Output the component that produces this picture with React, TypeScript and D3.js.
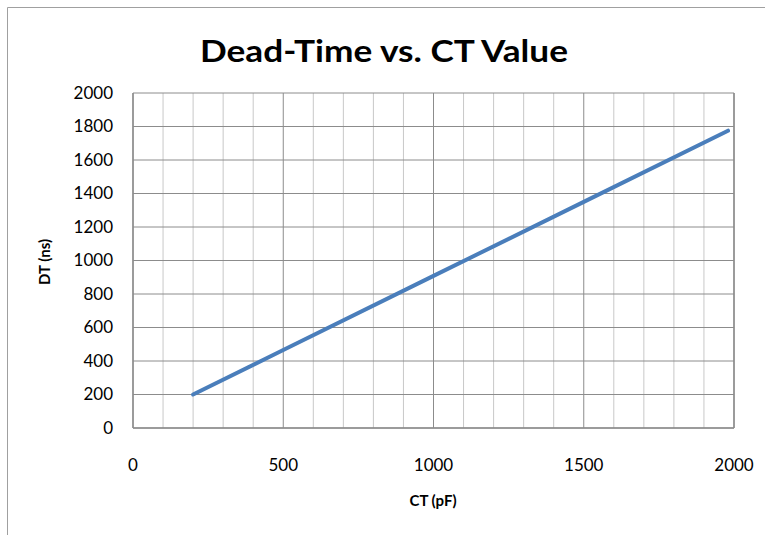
import React from "react";
import * as d3 from "d3";

const ctValues = [200, 500, 1000, 1500, 1980];
const dtValues = [200, 466, 908, 1350, 1775];
const xTicks = [0, 500, 1000, 1500, 2000];
const yTicks = [0, 200, 400, 600, 800, 1000, 1200, 1400, 1600, 1800, 2000];
const xMinor = d3.range(0, 2001, 100);

const W = 765, H = 535;
const m = { left: 133, right: 734, top: 93, bottom: 428 };
const font = "Lato, 'Open Sans', sans-serif";

export default function App() {
  const x = d3.scaleLinear().domain([0, 2000]).range([m.left, m.right]);
  const y = d3.scaleLinear().domain([0, 2000]).range([m.bottom, m.top]);
  const pts = ctValues.map((c, i) => [c, dtValues[i]] as [number, number]);
  const line = d3.line<[number, number]>().x(d => x(d[0])).y(d => y(d[1]));
  return (
    <svg width={W} height={H} style={{ position: "absolute", left: 0, top: 0 }}>
      <rect x={0} y={0} width={W} height={H} fill="#fff" />
      <path d="M7.5,535 V7.5 H765" fill="none" stroke="#a0a0a0" strokeWidth={1} />
      <text x={200} y={62} textLength={368} lengthAdjust="spacingAndGlyphs" fontFamily={font} fontWeight="bold" fontSize={31} fill="#000">Dead-Time vs. CT Value</text>
      {xMinor.map(v => (
        <line key={"xm" + v} x1={x(v)} x2={x(v)} y1={m.top} y2={m.bottom}
          stroke={v % 500 === 0 ? "#8c8c8c" : "#c8c8c8"} strokeWidth={1} />
      ))}
      {yTicks.map(v => (
        <line key={"y" + v} x1={m.left} x2={m.right} y1={y(v)} y2={y(v)} stroke="#8c8c8c" strokeWidth={1} />
      ))}
      <line x1={m.left} x2={m.left} y1={m.top} y2={m.bottom} stroke="#8c8c8c" strokeWidth={1.5} />
      <line x1={m.left} x2={m.right} y1={m.bottom} y2={m.bottom} stroke="#8c8c8c" strokeWidth={1.5} />
      <line x1={m.right} x2={m.right} y1={m.top} y2={m.bottom} stroke="#8c8c8c" strokeWidth={1.5} />
      <path d={line(pts) || ""} fill="none" stroke="#4a7ebb" strokeWidth={4} strokeLinecap="round" />
      {yTicks.map(v => (
        <text key={"yt" + v} x={113} y={y(v)} dy="0.35em" textAnchor="end" fontFamily={font} fontSize={17} fill="#000">{v}</text>
      ))}
      {xTicks.map(v => (
        <text key={"xt" + v} x={x(v)} y={465} dy="0.35em" textAnchor="middle" fontFamily={font} fontSize={17} fill="#000">{v}</text>
      ))}
      <text x={433} y={501} dy="0.35em" textAnchor="middle" fontFamily={font} fontWeight="bold" fontSize={15} fill="#000">CT (pF)</text>
      <text transform="translate(45,262) rotate(-90)" dy="0.35em" textAnchor="middle" fontFamily={font} fontWeight="bold" fontSize={15} fill="#000">DT (ns)</text>
    </svg>
  );
}
